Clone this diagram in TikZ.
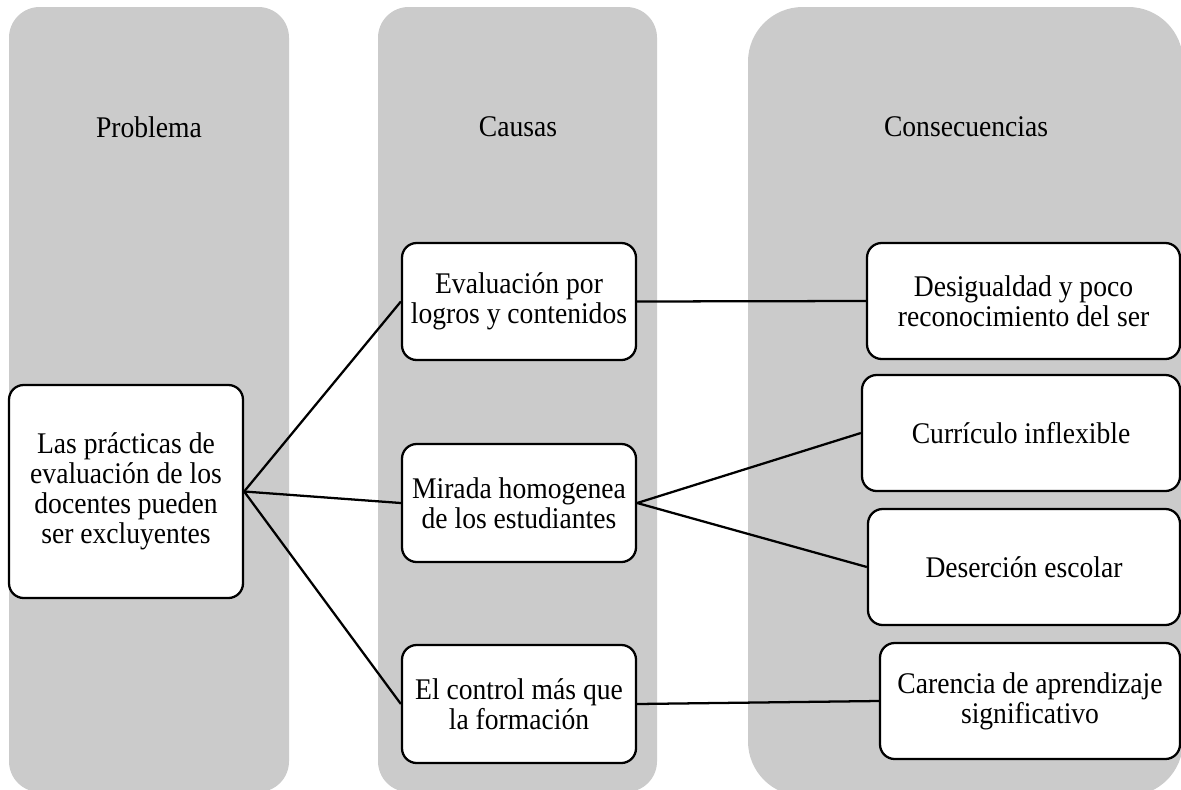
\documentclass[tikz,border=0pt]{standalone}
\usepackage{fontspec}
\setmainfont[FakeStretch=0.92]{Liberation Serif}
\definecolor{colgray}{HTML}{CBCBCB}
\begin{document}
\begin{tikzpicture}[x=0.75pt,y=-0.75pt,
  colbg/.style={fill=colgray},
  header/.style={font=\fontsize{22.5}{22.5}\selectfont, inner sep=0pt},
  box/.style={draw=black, line width=1.7pt, fill=white, rounded corners=11pt,
    align=center, inner sep=0pt, font=\fontsize{22.5}{22.5}\selectfont},
  link/.style={line width=1.7pt}]
\useasboundingbox (0,0) rectangle (1181,789);
% columns
\fill[colbg, rounded corners=23pt] (9,7) rectangle (289,792);
\fill[colbg, rounded corners=23pt] (378,7) rectangle (657,792);
\fill[colbg, rounded corners=41pt] (748,7) rectangle (1183,796);
% headers
\node[header] (hprob) at (149,127) {Problema};
\node[header] (hcaus) at (518,127) {Causas};
\node[header] (hcons) at (966,127) {Consecuencias};
% boxes
\node[box, minimum width=175.5pt, minimum height=159.75pt] (prob) at (126,491.5)
  {Las prácticas de\\evaluación de los\\docentes pueden\\ser excluyentes};
\node[box, minimum width=175.5pt, minimum height=87.75pt] (c1) at (519,301.5)
  {Evaluación por\\logros y contenidos};
\node[box, minimum width=175.5pt, minimum height=88.5pt] (c2) at (519,503)
  {Mirada homogenea\\de los estudiantes};
\node[box, minimum width=175.5pt, minimum height=88.5pt] (c3) at (519,704)
  {El control más que\\la formación};
\node[box, minimum width=234.75pt, minimum height=87pt] (d1) at (1023.5,301)
  {Desigualdad y poco\\reconocimiento del ser};
\node[box, minimum width=238.5pt, minimum height=87pt] (d2) at (1021,433)
  {Currículo inflexible};
\node[box, minimum width=234pt, minimum height=87pt] (d3) at (1024,567)
  {Deserción escolar};
\node[box, minimum width=225pt, minimum height=87pt] (d4) at (1030,701)
  {Carencia de aprendizaje\\significativo};
% connectors
\draw[link] (prob.east) -- (c1.west);
\draw[link] (prob.east) -- (c2.west);
\draw[link] (prob.east) -- (c3.west);
\draw[link] (c1.east) -- (d1.west);
\draw[link] (c2.east) -- (d2.west);
\draw[link] (c2.east) -- (d3.west);
\draw[link] (c3.east) -- (d4.west);
\end{tikzpicture}
\end{document}
